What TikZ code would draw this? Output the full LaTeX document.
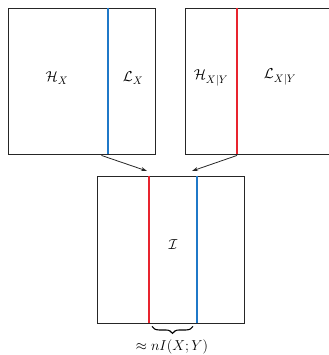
\documentclass[tikz,border=0pt]{standalone}
\usepackage{amsmath,amssymb}
\usetikzlibrary{arrows.meta,positioning,calc,decorations.pathreplacing}
\definecolor{infoblue}{HTML}{1F78C8}
\definecolor{infored}{HTML}{E8242E}
\tikzset{setbox/.style={draw=black!85,line width=0.9pt,minimum width=147bp,minimum height=146bp,inner sep=0pt},bluecut/.style={draw=infoblue,line width=2pt},redcut/.style={draw=infored,line width=2pt},maparr/.style={-{Stealth[length=6bp,width=4bp]},draw=black!85,line width=0.8pt},setlabel/.style={font=\fontsize{15.5}{18}\selectfont}}
\begin{document}
\begin{tikzpicture}[x=1bp,y=-1bp]
\useasboundingbox (0,0) rectangle (329,355);
\node[setbox] (hx) at (81.5,81) {};
\node[setbox] (hxy) at (258.5,81) {};
\node[setbox,minimum height=147bp] (joint) at (170.5,249.5) {};
\coordinate (bx) at (108,0);
\coordinate (rxy) at (237,0);
\coordinate (rj) at (149,0);
\coordinate (bj) at (197,0);
\draw[bluecut] (hx.north -| bx)--(hx.south -| bx);
\draw[redcut] (hxy.north -| rxy)--(hxy.south -| rxy);
\draw[redcut] (joint.north -| rj)--(joint.south -| rj);
\draw[bluecut] (joint.north -| bj)--(joint.south -| bj);
\node[setlabel] (hxl) at (57,78) {$\mathcal{H}_X$};
\node[setlabel] (lxl) at (133,78) {$\mathcal{L}_X$};
\node[setlabel] (hxyl) at (211,78) {$\mathcal{H}_{X|Y}$};
\node[setlabel] (lxyl) at (280,77) {$\mathcal{L}_{X|Y}$};
\node[setlabel] (il) at (173,245) {$\mathcal{I}$};
\coordinate (a1) at (147,171);
\coordinate (a2) at (192,171);
\draw[maparr] ($(hx.south)+(20,1)$)--(a1);
\draw[maparr] ($(hxy.south -| rxy)+(0,1)$)--(a2);
\draw[decorate,decoration={brace,mirror,amplitude=7bp},line width=1.1pt] ($(joint.south -| rj)+(3,3)$)--($(joint.south -| bj)+(-4,3)$);
\node[setlabel] (mi) at (172,347) {$\approx nI(X;Y)$};
\end{tikzpicture}
\end{document}
